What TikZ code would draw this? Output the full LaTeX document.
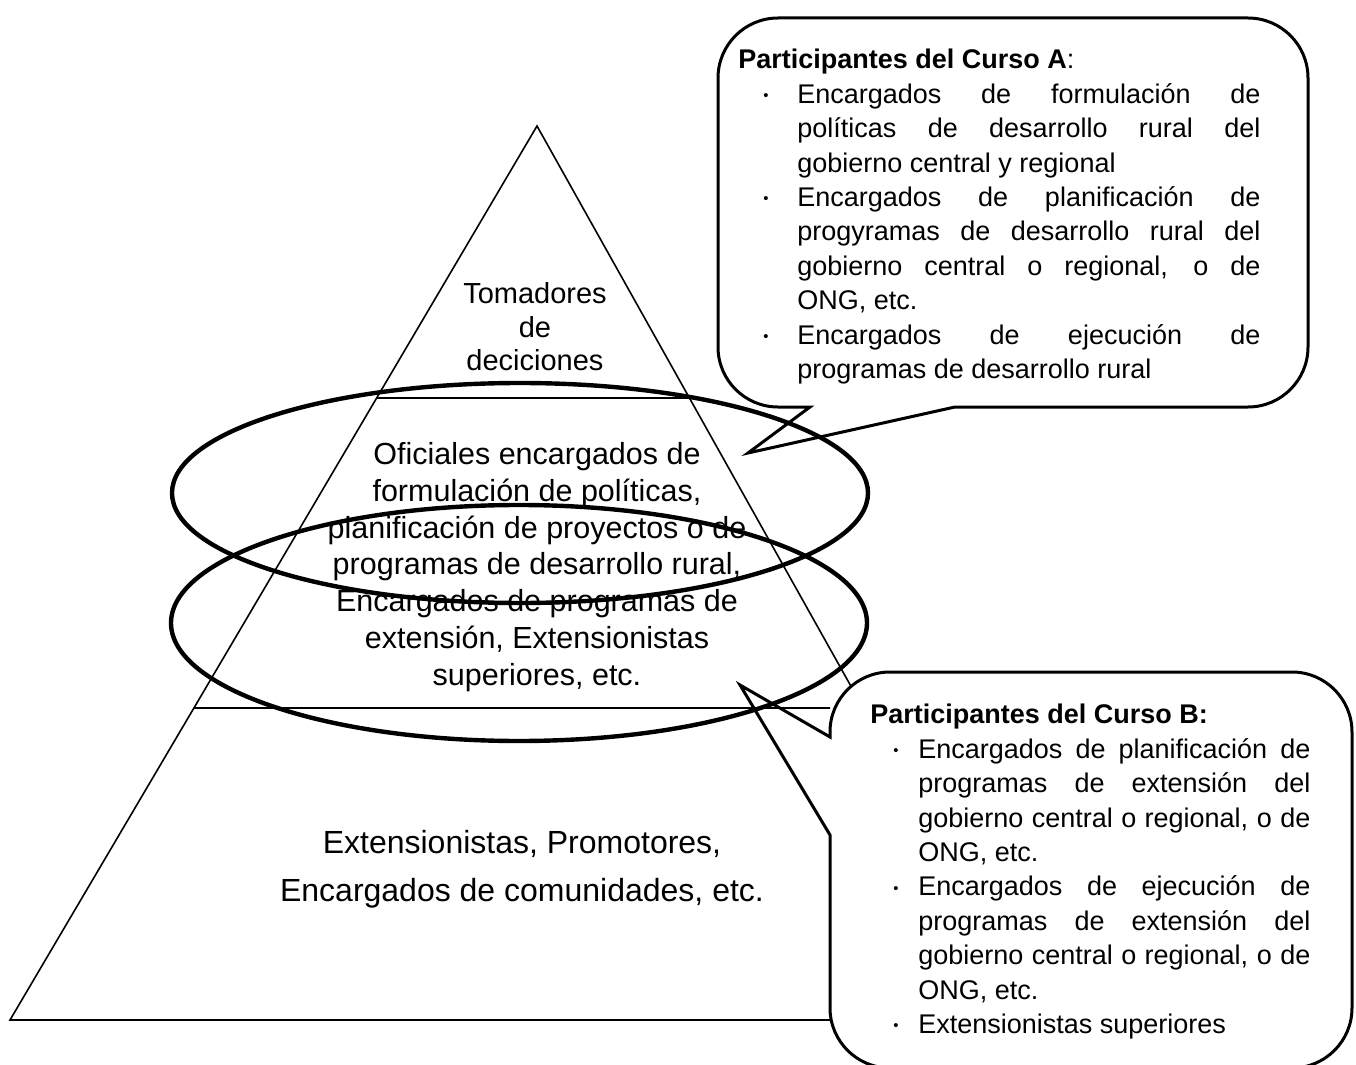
\documentclass[tikz,border=0pt]{standalone}
\usepackage{fontspec}
\setmainfont{Liberation Sans}
\usetikzlibrary{calc}
\hbadness=10000

\newcommand{\bitem}[3]{\par\leftskip=#1\hangindent=#2\hangafter=1\noindent\makebox[#2][l]{\raisebox{0.2ex}{\scalebox{0.55}{\textbullet}}}#3\par}

\begin{document}
\begin{tikzpicture}[x=0.5pt,y=-0.5pt]
	\tikzset{every node/.style={inner sep=0pt},
		layer/.style={line width=0.8pt},
		bubble/.style={draw, line width=1.5pt, fill=white},
		ring/.style={draw, line width=2.2pt},
		calltext/.style={anchor=north west, align=justify, font=\fontsize{13.5}{17.2}\selectfont}}
	\useasboundingbox (0,0) rectangle (1356,1065);

	\coordinate (apex) at (537,126);
	\coordinate (bl) at (10,1020);
	\coordinate (br) at (1038,1020);
	\coordinate (tl) at ($(apex)!0.304!(bl)$);
	\coordinate (tr) at ($(apex)!0.304!(br)$);
	\coordinate (ml) at ($(apex)!0.651!(bl)$);
	\coordinate (mr) at (830,708);

	\draw[layer] (bl) -- (apex) -- (br) -- cycle;
	\draw[layer] (tl) -- (tr);

	% globos
	\draw[bubble] (955,407) -- (1248,407) arc[start angle=-90,end angle=0,radius=30pt]
		-- (1308,78) arc[start angle=0,end angle=90,radius=30pt]
		-- (778,18) arc[start angle=90,end angle=180,radius=30pt]
		-- (718,347) arc[start angle=180,end angle=270,radius=30pt]
		-- (810,407) -- (748,453) -- cycle;
	\draw[bubble] (830,835) -- (830,1008) arc[start angle=180,end angle=270,radius=30pt]
		-- (1292,1068) arc[start angle=-90,end angle=0,radius=30pt]
		-- (1352,732) arc[start angle=0,end angle=90,radius=30pt]
		-- (890,672) arc[start angle=90,end angle=180,radius=30pt]
		-- (830,737) -- (740,685) -- cycle;

	\draw[layer] (ml) -- (mr);

	\node[font=\fontsize{14.5}{16.75}\selectfont, align=center] (tomadores) at (535,327) {Tomadores\\de\\deciciones};
	\node[font=\fontsize{15.25}{18.4}\selectfont, align=center] (oficiales) at (537,567)
		{Oficiales encargados de\\formulación de políticas,\\planificación de proyectos o de\\programas de desarrollo rural,\\Encargados de programas de\\extensión, Extensionistas\\superiores, etc.};
	\node[font=\fontsize{16}{24}\selectfont, align=center] (extensionistas) at (522,869)
		{Extensionistas, Promotores,\\Encargados de comunidades, etc.};

	\node[calltext, text width=261pt] (cursoA) at (738,49) {\noindent\textbf{Participantes del Curso A}:
		\bitem{12.5pt}{17pt}{Encargados de formulación de\linebreak políticas de desarrollo rural del\linebreak gobierno central y regional}
		\bitem{12.5pt}{17pt}{Encargados de planificación de\linebreak progyramas de desarrollo rural del\linebreak gobierno central o regional, o de\linebreak ONG, etc.}
		\bitem{12.5pt}{17pt}{Encargados de ejecución de\linebreak programas de desarrollo rural}};
	\node[calltext, text width=220pt] (cursoB) at (870,704) {\noindent\textbf{Participantes del Curso B:}
		\bitem{11.5pt}{12.5pt}{Encargados de planificación de\linebreak programas de extensión del\linebreak gobierno central o regional, o de\linebreak ONG, etc.}
		\bitem{11.5pt}{12.5pt}{Encargados de ejecución de\linebreak programas de extensión del\linebreak gobierno central o regional, o de\linebreak ONG, etc.}
		\bitem{11.5pt}{12.5pt}{Extensionistas superiores}};

	\draw[ring] (520,493) ellipse [x radius=174pt, y radius=55pt];
	\draw[ring] (519,623) ellipse [x radius=174pt, y radius=59pt];
\end{tikzpicture}
\end{document}
